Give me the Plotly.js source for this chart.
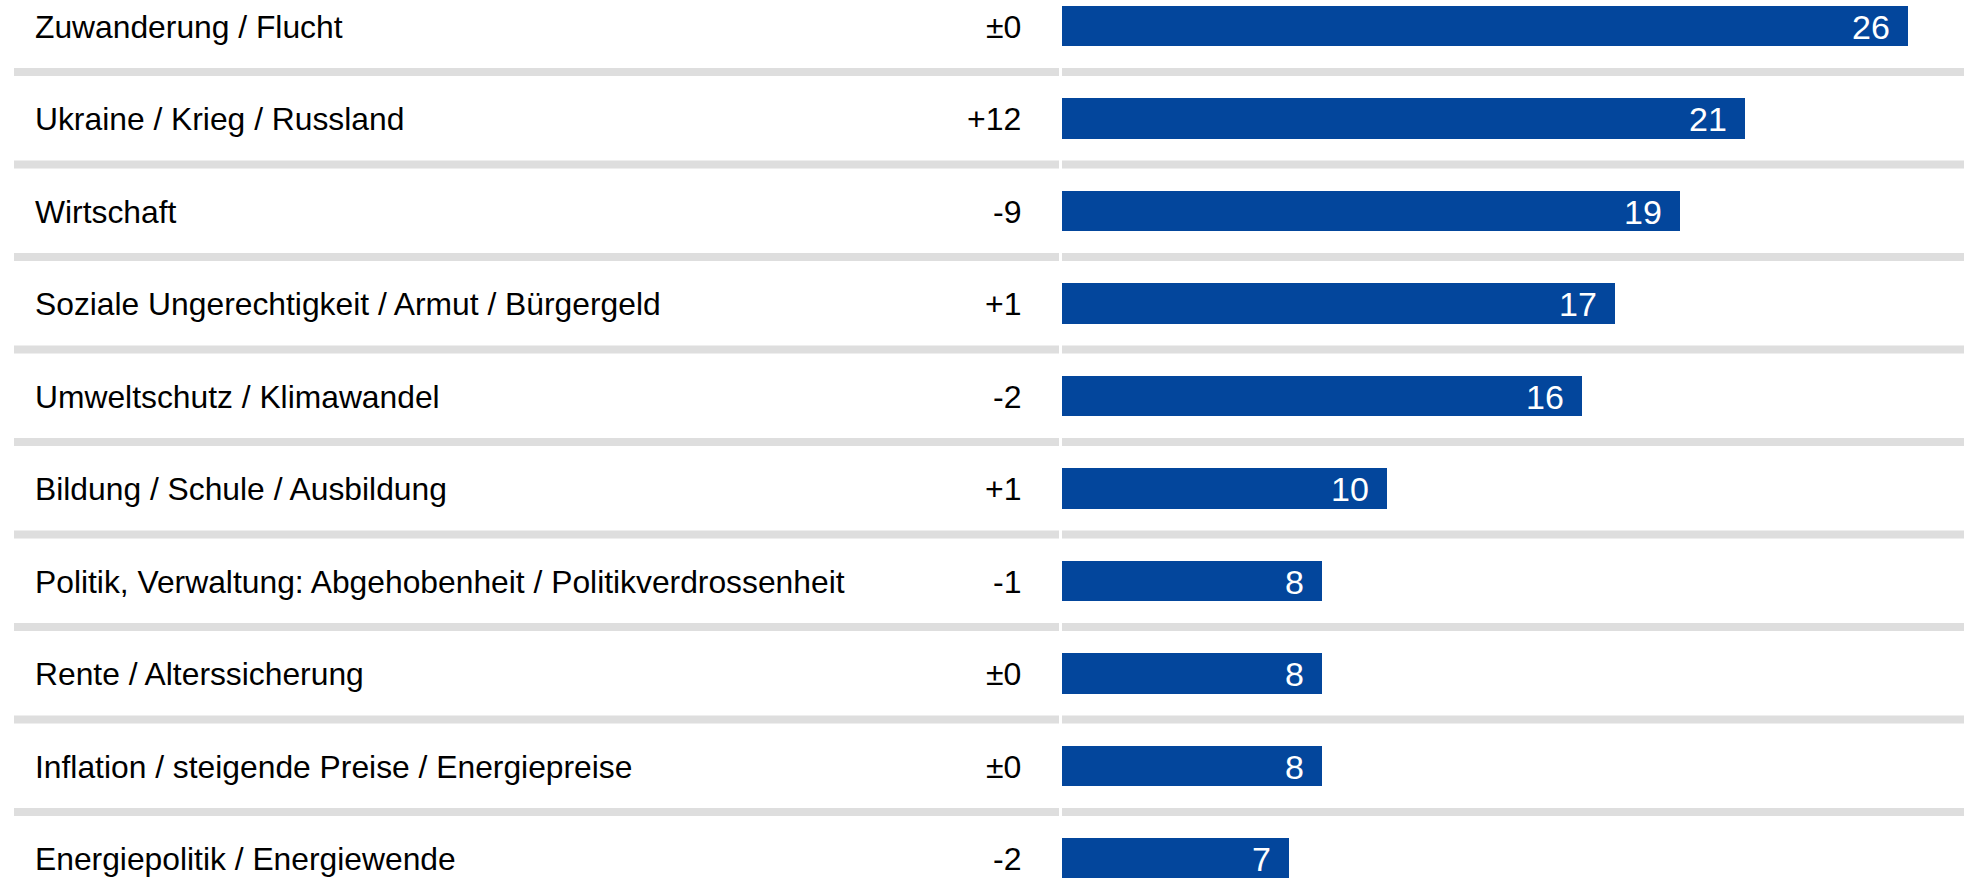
<!DOCTYPE html>
<html>
<head>
<meta charset="utf-8">
<script src="https://cdn.plot.ly/plotly-3.0.1.min.js"></script>
<style>html,body{margin:0;padding:0;background:#fff;}#chart{width:1964px;height:878px;}</style>
</head>
<body>
<div id="chart"></div>
<script>
const categories = [
  "Zuwanderung / Flucht",
  "Ukraine / Krieg / Russland",
  "Wirtschaft",
  "Soziale Ungerechtigkeit / Armut / Bürgergeld",
  "Umweltschutz / Klimawandel",
  "Bildung / Schule / Ausbildung",
  "Politik, Verwaltung: Abgehobenheit / Politikverdrossenheit",
  "Rente / Alterssicherung",
  "Inflation / steigende Preise / Energiepreise",
  "Energiepolitik / Energiewende"
];
const values = [26, 21, 19, 17, 16, 10, 8, 8, 8, 7];
const changes = ["±0", "+12", "-9", "+1", "-2", "+1", "-1", "±0", "±0", "-2"];

const W = 1964, H = 878;
const FONT = "Liberation Sans, Arial, sans-serif";
const barColor = "#03469c";
const sepColor = "#dedede";

const trace = {
  type: "bar",
  orientation: "h",
  x: values,
  y: categories,
  marker: {color: barColor, line: {width: 0}},
  width: 0.436,
  hoverinfo: "skip",
  showlegend: false
};

const annotations = [];
categories.forEach((c, i) => {
  annotations.push({
    xref: "paper", yref: "y", x: 33 / W, y: c, xanchor: "left", yanchor: "middle",
    yshift: -1, text: c, showarrow: false, font: {family: FONT, size: 31.8, color: "#000"}
  });
  annotations.push({
    xref: "paper", yref: "y", x: 1023 / W, y: c, xanchor: "right", yanchor: "middle",
    yshift: -1, text: changes[i], showarrow: false, font: {family: FONT, size: 32, color: "#000"}
  });
  annotations.push({
    xref: "x", yref: "y", x: values[i], y: c, xanchor: "right", yanchor: "middle",
    xshift: -16, yshift: -1, text: String(values[i]), showarrow: false,
    font: {family: FONT, size: 34, color: "#fff"}
  });
});

const shapes = [];
for (let i = 0; i < categories.length - 1; i++) {
  shapes.push({type: "line", xref: "paper", yref: "y", x0: 14 / W, x1: 1059 / W,
    y0: i + 0.5, y1: i + 0.5, line: {color: sepColor, width: 8}, layer: "below"});
  shapes.push({type: "line", xref: "paper", yref: "y", x0: 1062 / W, x1: 1,
    y0: i + 0.5, y1: i + 0.5, line: {color: sepColor, width: 8}, layer: "below"});
}

const pxPerUnit = 32.54;
const x0px = 1061.7;
const layout = {
  width: W, height: H,
  margin: {l: 0, r: 0, t: 0, b: 0, pad: 0},
  paper_bgcolor: "#fff", plot_bgcolor: "#fff",
  xaxis: {domain: [x0px / W, 1], range: [0, (W - x0px) / pxPerUnit],
    showgrid: false, zeroline: false, showticklabels: false, showline: false, fixedrange: true},
  yaxis: {type: "category", range: [-0.2795 + H / 92.5, -0.2795],
    showgrid: false, zeroline: false, showticklabels: false, showline: false, fixedrange: true},
  annotations: annotations,
  shapes: shapes,
  bargap: 0
};

Plotly.newPlot("chart", [trace], layout, {displayModeBar: false, staticPlot: true});
</script>
</body>
</html>
